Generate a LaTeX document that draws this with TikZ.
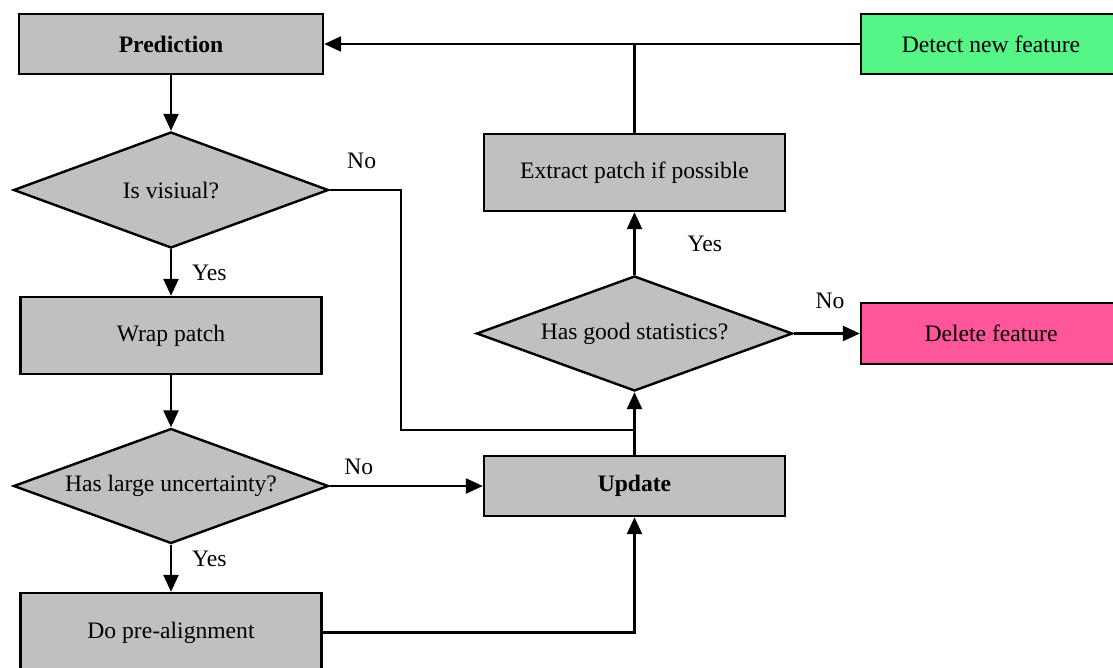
\documentclass[tikz,border=0pt]{standalone}
\usepackage{fontspec}
\setmainfont{Liberation Serif}
\usepackage{tikz}
\usepackage{xcolor}
\usetikzlibrary{shapes.geometric, arrows.meta, positioning, calc}

\definecolor{boxgray}{HTML}{C0C0C0}
\definecolor{detectgreen}{HTML}{55F587}
\definecolor{deletepink}{HTML}{FF5599}

\begin{document}
\begin{tikzpicture}[x=0.5pt, y=-0.5pt, line width=1.2pt,
  >={Triangle[length=8.5pt,width=7.5pt]},
  every node/.style={font=\fontsize{11.8}{14}\selectfont},
  procbox/.style={draw, fill=boxgray, rectangle, inner sep=0pt, minimum width=150.5pt},
  decision/.style={draw, fill=boxgray, diamond, aspect=2.7, inner sep=0pt, minimum width=157.5pt, minimum height=58pt},
  lbl/.style={inner sep=1pt}]
\useasboundingbox (0,0) rectangle (1113,668);

% Left column
\node[procbox, minimum width=152pt, minimum height=30pt] (pred) at (171,44) {\textbf{Prediction}};
\node[decision] (visual) at (171,190) {Is visiual?};
\node[procbox, minimum height=38.5pt] (wrap) at (171,335.5) {Wrap patch};
\node[decision, minimum height=57.5pt] (uncert) at (171,486) {Has large uncertainty?};
\node[procbox, minimum height=39.5pt] (prealign) at (171,632.5) {Do pre-alignment};

% Middle column
\node[procbox, minimum height=30pt] (update) at (634.5,486) {\textbf{Update}};
\node[decision, minimum width=158pt, minimum height=57.5pt] (stats) at (634.5,333.5) {Has good statistics?};
\node[procbox, minimum height=38.5pt] (extract) at (634.5,172.5) {Extract patch if possible};

% Right column
\node[procbox, fill=detectgreen, minimum width=130pt, minimum height=30pt] (detect) at (991,44) {Detect new feature};
\node[procbox, fill=deletepink, minimum width=130pt, minimum height=30.5pt] (delete) at (991,333.5) {Delete feature};

\coordinate (join) at (634.5,430);

% Connectors
\draw[->] (pred) -- (visual);
\draw[->] (visual) -- node[lbl, right=9pt]{Yes} (wrap);
\draw[->] (wrap) -- (uncert);
\draw[->] (uncert) -- node[lbl, right=9pt, pos=0.3]{Yes} (prealign);
\draw[->] (uncert) -- node[lbl, above=4pt, pos=0.19]{No} (update);
\draw[->] (prealign) -| (update);
\draw[->] (update) -- (stats);
\draw (visual.east) -- node[lbl, above=9pt, pos=0.45]{No} ++(71,0) |- (join);
\draw[->] (stats) -- node[lbl, right=25pt]{Yes} (extract);
\draw[->] (stats) -- node[lbl, above=11pt, pos=0.55]{No} (delete);
\draw[->] (detect) -- (pred);
\draw (extract) -- (extract |- detect);
\end{tikzpicture}
\end{document}
